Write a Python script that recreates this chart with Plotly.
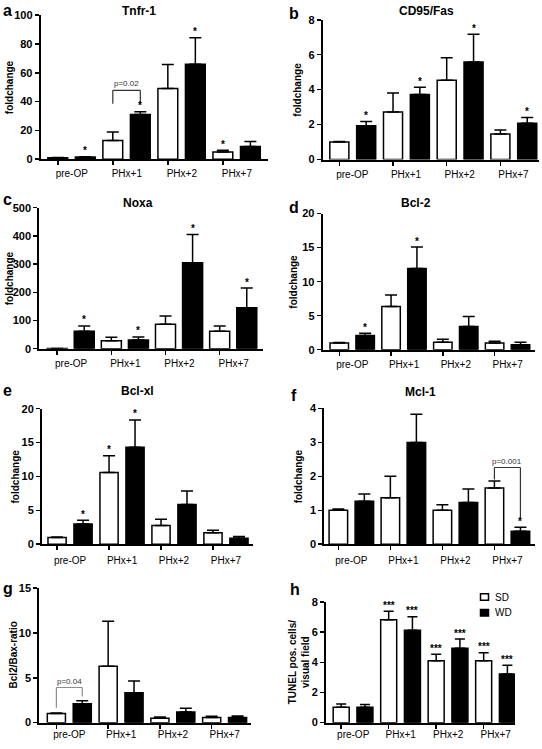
import plotly.graph_objects as go

W, H = 542, 749

categories = ["pre-OP", "PHx+1", "PHx+2", "PHx+7"]
cat_x = [0, 1, 2, 3]

# a  Tnfr-1
tnfr_sd = [1.0, 13.0, 49.0, 5.0]
tnfr_sd_err = [0.2, 5.9, 16.8, 1.2]
tnfr_wd = [1.5, 31.0, 66.0, 8.9]
tnfr_wd_err = [0.2, 2.0, 18.3, 3.4]
tnfr_sd_sig = ["", "", "", "*"]
tnfr_wd_sig = ["*", "*", "*", ""]

# b  CD95/Fas
fas_sd = [1.0, 2.72, 4.54, 1.46]
fas_sd_err = [0.03, 1.09, 1.28, 0.23]
fas_wd = [1.93, 3.72, 5.58, 2.07]
fas_wd_err = [0.25, 0.41, 1.59, 0.33]
fas_sd_sig = ["", "", "", ""]
fas_wd_sig = ["*", "*", "*", "*"]

# c  Noxa
noxa_sd = [1.0, 28.0, 87.0, 62.0]
noxa_sd_err = [0.2, 12.7, 29.0, 19.0]
noxa_wd = [62.0, 31.0, 305.0, 145.0]
noxa_wd_err = [19.0, 11.0, 100.0, 70.0]
noxa_sd_sig = ["", "", "", ""]
noxa_wd_sig = ["*", "*", "*", "*"]

# d  Bcl-2
bcl2_sd = [1.0, 6.36, 1.1, 1.0]
bcl2_sd_err = [0.05, 1.69, 0.44, 0.25]
bcl2_wd = [2.07, 11.95, 3.42, 0.72]
bcl2_wd_err = [0.33, 3.13, 1.45, 0.38]
bcl2_sd_sig = ["", "", "", ""]
bcl2_wd_sig = ["*", "*", "", ""]

# e  Bcl-xl
bclxl_sd = [1.0, 10.6, 2.76, 1.7]
bclxl_sd_err = [0.05, 2.47, 0.92, 0.38]
bclxl_wd = [3.0, 14.33, 5.86, 0.87]
bclxl_wd_err = [0.53, 4.02, 1.98, 0.29]
bclxl_sd_sig = ["", "*", "", ""]
bclxl_wd_sig = ["*", "*", "", ""]

# f  Mcl-1
mcl1_sd = [1.0, 1.37, 1.0, 1.66]
mcl1_sd_err = [0.04, 0.63, 0.16, 0.2]
mcl1_wd = [1.27, 3.0, 1.23, 0.38]
mcl1_wd_err = [0.21, 0.83, 0.4, 0.12]
mcl1_sd_sig = ["", "", "", ""]
mcl1_wd_sig = ["", "", "", "*"]

# g  Bcl2/Bax-ratio
ratio_sd = [1.02, 6.3, 0.48, 0.58]
ratio_sd_err = [0.05, 5.0, 0.14, 0.12]
ratio_wd = [2.12, 3.33, 1.2, 0.58]
ratio_wd_err = [0.33, 1.32, 0.4, 0.15]
ratio_sd_sig = ["", "", "", ""]
ratio_wd_sig = ["", "", "", ""]

# h  TUNEL
tunel_sd = [1.02, 6.83, 4.11, 4.11]
tunel_sd_err = [0.22, 0.56, 0.43, 0.52]
tunel_wd = [1.02, 6.13, 4.93, 3.22]
tunel_wd_err = [0.18, 0.89, 0.61, 0.58]
tunel_sd_sig = ["", "***", "***", "***"]
tunel_wd_sig = ["", "***", "***", "***"]

# p-value brackets: (panel, left x, right x, top y, left leg end, right leg end, label, colour)
brackets = [
    ("a", 0.75, 1.25, 47.8, 38.5, 38.5, "p=0.02", "#333333"),
    ("f", 2.75, 3.25, 2.26, 1.91, 0.76, "p=0.001", "#333333"),
    ("g", -0.25, 0.25, 3.92, 1.65, 2.93, "p=0.04", "#8c8c8c"),
]

panels = [
    dict(key="a", title="Tnfr-1", ytitle="foldchange",
         sd=tnfr_sd, sde=tnfr_sd_err, wd=tnfr_wd, wde=tnfr_wd_err, sds=tnfr_sd_sig, wds=tnfr_wd_sig,
         px=(40.7, 268), py=(9.3, 155.7), ymax=100, dtick=20, xr=(-0.56, 3.57), bw=0.36, sp=55,
         letter=(1, 5), tpos=(139, 5.5), ytx=9, so=0),
    dict(key="b", title="CD95/Fas", ytitle="foldchange",
         sd=fas_sd, sde=fas_sd_err, wd=fas_wd, wde=fas_wd_err, sds=fas_sd_sig, wds=fas_wd_sig,
         px=(322.7, 538.5), py=(14, 156), ymax=8, dtick=2, xr=(-0.56, 3.46), bw=0.355, sp=53.6,
         letter=(287, 8), tpos=(426.5, 5.5), ytx=298, so=0),
    dict(key="c", title="Noxa", ytitle="foldchange",
         sd=noxa_sd, sde=noxa_sd_err, wd=noxa_wd, wde=noxa_wd_err, sds=noxa_sd_sig, wds=noxa_wd_sig,
         px=(39.3, 263), py=(205, 348.3), ymax=500, dtick=100, xr=(-0.58, 3.55), bw=0.37, sp=54,
         letter=(1, 197), tpos=(137.5, 200), ytx=9, so=0),
    dict(key="d", title="Bcl-2", ytitle="foldchange",
         sd=bcl2_sd, sde=bcl2_sd_err, wd=bcl2_wd, wde=bcl2_wd_err, sds=bcl2_sd_sig, wds=bcl2_wd_sig,
         px=(322.7, 535), py=(211, 349.3), ymax=20, dtick=5, xr=(-0.57, 3.53), bw=0.357, sp=51.8,
         letter=(287, 205), tpos=(416, 200), ytx=294, so=0),
    dict(key="e", title="Bcl-xl", ytitle="foldchange",
         sd=bclxl_sd, sde=bclxl_sd_err, wd=bclxl_wd, wde=bclxl_wd_err, sds=bclxl_sd_sig, wds=bclxl_wd_sig,
         px=(42, 253), py=(409.3, 547), ymax=20, dtick=5, xr=(-0.54, 3.52), bw=0.35, sp=52,
         letter=(1, 391), tpos=(137.5, 391), ytx=15, so=2),
    dict(key="f", title="Mcl-1", ytitle="foldchange",
         sd=mcl1_sd, sde=mcl1_sd_err, wd=mcl1_wd, wde=mcl1_wd_err, sds=mcl1_sd_sig, wds=mcl1_wd_sig,
         px=(324.3, 535), py=(409, 547), ymax=4, dtick=1, xr=(-0.52, 3.53), bw=0.356, sp=52,
         letter=(288.5, 396), tpos=(420, 392), ytx=298, so=2),
    dict(key="g", title="", ytitle="Bcl2/Bax-ratio",
         sd=ratio_sd, sde=ratio_sd_err, wd=ratio_wd, wde=ratio_wd_err, sds=ratio_sd_sig, wds=ratio_wd_sig,
         px=(39.3, 250.5), py=(591.7, 728.3), ymax=15, dtick=5, xr=(-0.58, 3.5), bw=0.35, sp=51.7,
         letter=(1, 592), tpos=None, ytx=13, so=-3),
    dict(key="h", title="", ytitle="TUNEL pos. cells/<br>visual field",
         sd=tunel_sd, sde=tunel_sd_err, wd=tunel_wd, wde=tunel_wd_err, sds=tunel_sd_sig, wds=tunel_wd_sig,
         px=(326, 515), py=(605.7, 728.3), ymax=8, dtick=2, xr=(-0.57, 3.41), bw=0.337, sp=47.5,
         letter=(288, 593), tpos=None, ytx=299, so=-3),
]

FONT = "Liberation Sans, Arial, sans-serif"

def fx(px):
    return px / W

def fy(py):
    return 1 - py / H

fig = go.Figure()
annotations = []
shapes = []
layout = {}

for i, p in enumerate(panels):
    n = i + 1
    xa = "x" if n == 1 else f"x{n}"
    ya = "y" if n == 1 else f"y{n}"
    bw = p["bw"]
    ewidth = 5 if p["key"] == "h" else 6
    for vals, errs, sig, color, centre in (
        (p["sd"], p["sde"], p["sds"], "white", -0.25),
        (p["wd"], p["wde"], p["wds"], "black", 0.25),
    ):
        fig.add_trace(go.Bar(
            x=cat_x, y=vals, width=bw, offset=centre - bw / 2,
            marker=dict(color=color, line=dict(color="black", width=1.5)),
            error_y=dict(type="data", array=errs, arrayminus=[0] * len(errs), symmetric=False,
                         color="black", thickness=1.5, width=ewidth),
            xaxis=xa, yaxis=ya, showlegend=False, hoverinfo="skip",
        ))
        for j, s in enumerate(sig):
            if s:
                annotations.append(dict(
                    x=cat_x[j] + centre, y=vals[j] + errs[j], xref=xa, yref=ya,
                    text=f"<b>{s}</b>", showarrow=False, yanchor="middle", yshift=6,
                    font=dict(size=10, color="#000000", family=FONT),
                ))
    layout["xaxis" if n == 1 else f"xaxis{n}"] = dict(
        domain=[fx(p["px"][0]), fx(p["px"][1])], anchor=ya, range=list(p["xr"]),
        tickmode="array", tickvals=[c - 0.25 for c in cat_x], ticktext=categories,
        ticklabelshift=int(round(0.25 * p["sp"])), ticklabelstandoff=p["so"],
        showline=True, linecolor="black", linewidth=2, ticks="outside", ticklen=4,
        tickwidth=1.5, tickcolor="black", showgrid=False, zeroline=False,
        tickfont=dict(size=10, color="black", family=FONT), fixedrange=True,
    )
    layout["yaxis" if n == 1 else f"yaxis{n}"] = dict(
        domain=[fy(p["py"][1]), fy(p["py"][0])], anchor=xa, range=[0, p["ymax"]],
        tickmode="linear", tick0=0, dtick=p["dtick"],
        showline=True, linecolor="black", linewidth=2, ticks="outside", ticklen=4,
        tickwidth=1.5, tickcolor="black", showgrid=False, zeroline=False,
        tickfont=dict(size=11, color="black", family=FONT, weight="bold"), fixedrange=True,
    )
    # panel letter
    annotations.append(dict(
        x=fx(p["letter"][0]), y=fy(p["letter"][1]), xref="paper", yref="paper",
        text=f"<b>{p['key']}</b>", showarrow=False, xanchor="left", yanchor="middle",
        font=dict(size=16, color="black", family=FONT),
    ))
    if p["tpos"]:
        annotations.append(dict(
            x=fx(p["tpos"][0]), y=fy(p["tpos"][1]), xref="paper", yref="paper",
            text=f"<b>{p['title']}</b>", showarrow=False, xanchor="center", yanchor="middle",
            font=dict(size=12, color="black", family=FONT),
        ))
    annotations.append(dict(
        x=fx(p["ytx"]), y=fy((p["py"][0] + p["py"][1]) / 2), xref="paper", yref="paper",
        text=f"<b>{p['ytitle']}</b>", showarrow=False, textangle=-90,
        xanchor="center", yanchor="middle",
        font=dict(size=10, color="black", family=FONT),
    ))

keys = [p["key"] for p in panels]
for key, x1, x2, ytop, yl, yr, label, col in brackets:
    n = keys.index(key) + 1
    xa = "x" if n == 1 else f"x{n}"
    ya = "y" if n == 1 else f"y{n}"
    for (a0, b0, a1, b1) in ((x1, yl, x1, ytop), (x1, ytop, x2, ytop), (x2, ytop, x2, yr)):
        shapes.append(dict(type="line", xref=xa, yref=ya, x0=a0, y0=b0, x1=a1, y1=b1,
                           line=dict(color=col, width=1.2)))
    annotations.append(dict(
        x=(x1 + x2) / 2, y=ytop, xref=xa, yref=ya, text=label, showarrow=False,
        yanchor="bottom", yshift=0, font=dict(size=8, color="#333333", family=FONT),
    ))

# legend for panel h
legend_items = [("SD", "white", 597.3), ("WD", "black", 613.3)]
for name, col, top in legend_items:
    shapes.append(dict(type="rect", xref="paper", yref="paper",
                       x0=fx(480.5), x1=fx(488.5), y0=fy(top + 6.7), y1=fy(top),
                       fillcolor=col, line=dict(color="black", width=1.5)))
    annotations.append(dict(
        x=fx(492.5), y=fy(top + 3.4), xref="paper", yref="paper", text=name,
        showarrow=False, xanchor="left", yanchor="middle",
        font=dict(size=10, color="black", family=FONT),
    ))

fig.update_layout(
    width=W, height=H, margin=dict(l=0, r=0, t=0, b=0),
    paper_bgcolor="white", plot_bgcolor="white",
    barmode="overlay", showlegend=False, hovermode=False,
    font=dict(family=FONT, color="black"),
    annotations=annotations, shapes=shapes, **layout,
)

fig.write_html("out.html", config={"displayModeBar": False, "staticPlot": True},
               post_script="document.body.style.margin='0px';document.body.style.overflow='hidden';")
